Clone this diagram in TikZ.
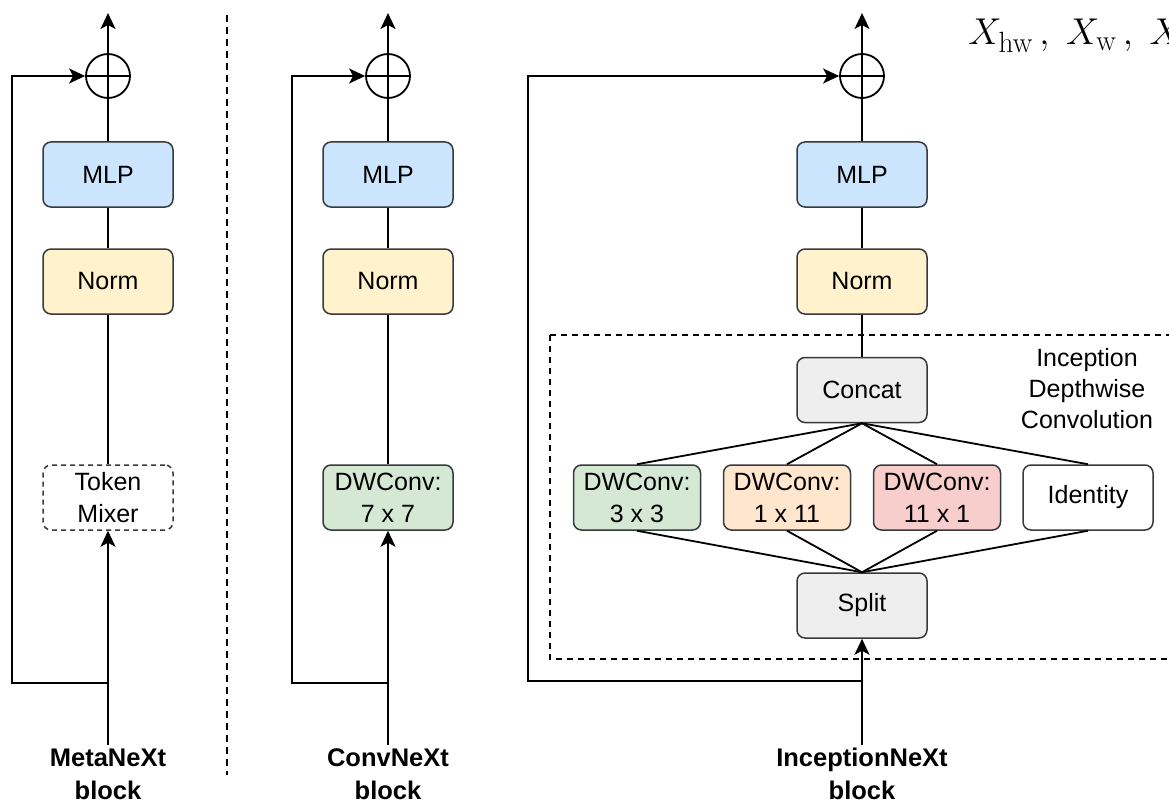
\documentclass[tikz,border=0pt]{standalone}
\usepackage{fontspec}
\setsansfont{Liberation Sans}
\usetikzlibrary{arrows.meta}
\definecolor{cblue}{HTML}{CCE5FF}
\definecolor{cyellow}{HTML}{FFF2CC}
\definecolor{cgreen}{HTML}{D5E8D4}
\definecolor{corange}{HTML}{FFE6CC}
\definecolor{cred}{HTML}{F8CECC}
\definecolor{cgray}{HTML}{EEEEEE}
\definecolor{cborder}{HTML}{36393D}
\newcommand{\subtxt}[1]{\mbox{\fontsize{19.5}{20}\selectfont #1}}
\begin{document}
\begin{tikzpicture}[x=1pt,y=-1pt,
  box/.style={draw=cborder, line width=1.5pt, rounded corners=8pt,
    minimum width=130pt, minimum height=65pt, inner sep=0pt,
    align=center, font=\sffamily\fontsize{25}{32}\selectfont},
  conn/.style={line width=1.8pt, draw=black},
  arr/.style={conn, -{Stealth[length=16pt,width=15pt,inset=4pt]}},
  plus/.style={circle, draw=black, line width=1.8pt, minimum size=44pt, inner sep=0pt},
  lbl/.style={align=center, font=\sffamily\bfseries\fontsize{25.5}{33}\selectfont},
  sep/.style={line width=1.8pt, dash pattern=on 7pt off 5pt},
  grp/.style={line width=1.5pt, dash pattern=on 6pt off 5pt}
]
\useasboundingbox (0,0) rectangle (1169,805);

% separator
\draw[sep] (227,15) -- (227,775);

% inception group frame
\draw[grp] (550,335) -- (1185,335) (550,335) -- (550,659) -- (1185,659);

% ---------- MetaNeXt ----------
\node[plus] (pA) at (108,76) {};
\node[box, fill=cblue] (mA) at (108,174.5) {MLP};
\node[box, fill=cyellow] (nA) at (108,281.5) {Norm};
\node[box, fill=white, dash pattern=on 5pt off 4pt] (tA) at (108,497.5) {Token\\Mixer};
\coordinate (topA) at (108,13);
\coordinate (inA) at (108,745);
\coordinate (jA) at (108,683);
\coordinate (cA) at (12,683);
\coordinate (dA) at (12,76);
\draw[arr] (mA.north) -- (topA);
\draw[conn] (pA.west) -- (pA.east);
\draw[conn] (nA.north) -- (mA.south);
\draw[conn] (tA.north) -- (nA.south);
\draw[arr] (inA) -- (tA.south);
\draw[arr] (jA) -- (cA) -- (dA) -- (pA.west);
\node[lbl] (lA) at (108,774) {MetaNeXt\\block};

% ---------- ConvNeXt ----------
\node[plus] (pB) at (388,76) {};
\node[box, fill=cblue] (mB) at (388,174.5) {MLP};
\node[box, fill=cyellow] (nB) at (388,281.5) {Norm};
\node[box, fill=cgreen] (tB) at (388,497.5) {DWConv:\\7 x 7};
\coordinate (topB) at (388,13);
\coordinate (inB) at (388,745);
\coordinate (jB) at (388,683);
\coordinate (cB) at (292,683);
\coordinate (dB) at (292,76);
\draw[arr] (mB.north) -- (topB);
\draw[conn] (pB.west) -- (pB.east);
\draw[conn] (nB.north) -- (mB.south);
\draw[conn] (tB.north) -- (nB.south);
\draw[arr] (inB) -- (tB.south);
\draw[arr] (jB) -- (cB) -- (dB) -- (pB.west);
\node[lbl] (lB) at (388,774) {ConvNeXt\\block};

% ---------- InceptionNeXt ----------
\node[plus] (pC) at (862,76) {};
\node[box, fill=cblue] (mC) at (862,174.5) {MLP};
\node[box, fill=cyellow] (nC) at (862,281.5) {Norm};
\node[box, fill=cgray] (cc) at (862,390) {Concat};
\node[box, fill=cgreen, minimum width=127pt] (b1) at (637,497.5) {DWConv:\\3 x 3};
\node[box, fill=corange, minimum width=127pt] (b2) at (787,497.5) {DWConv:\\1 x 11};
\node[box, fill=cred, minimum width=127pt] (b3) at (937,497.5) {DWConv:\\11 x 1};
\node[box, fill=white, minimum width=130pt] (b4) at (1088,497.5) {Identity};
\node[box, fill=cgray] (sp) at (862,605.5) {Split};
\node[align=center, font=\sffamily\fontsize{25}{31}\selectfont] (tt) at (1087,389) {Inception\\Depthwise\\Convolution};
\coordinate (topC) at (862,13);
\coordinate (inC) at (862,745);
\coordinate (jC) at (862,681);
\coordinate (cC) at (528,681);
\coordinate (dC) at (528,76);
\draw[arr] (mC.north) -- (topC);
\draw[conn] (pC.west) -- (pC.east);
\draw[conn] (nC.north) -- (mC.south);
\draw[conn] (cc.north) -- (nC.south);
\foreach \b in {b1,b2,b3,b4}{
  \draw[conn] (cc.south) -- (\b.north);
  \draw[conn] (\b.south) -- (sp.north);
}
\draw[arr] (inC) -- (sp.south);
\draw[arr] (jC) -- (cC) -- (dC) -- (pC.west);
\node[lbl] (lC) at (862,774) {InceptionNeXt\\block};

% math text
\node[anchor=base west, inner sep=0pt, scale=1.5, font=\fontsize{24}{28}\selectfont] (xx) at (968,45) {$X_{\subtxt{hw}}\,,\;X_{\subtxt{w}}\,,\;X_{\subtxt{h}}$};
\end{tikzpicture}
\end{document}
